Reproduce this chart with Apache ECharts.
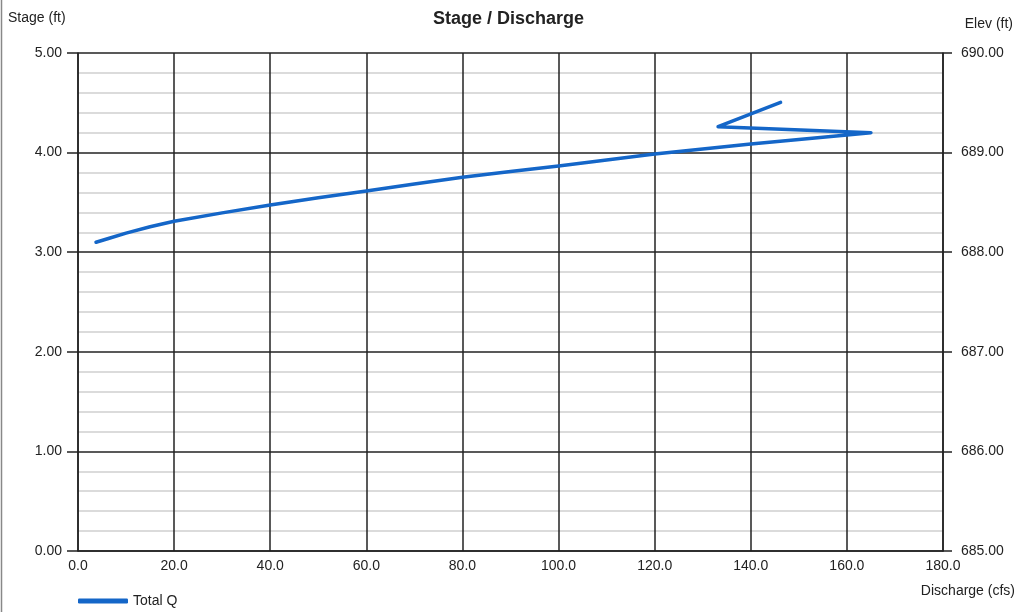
<!DOCTYPE html>
<html>
<head>
<meta charset="utf-8">
<script src="https://cdn.jsdelivr.net/npm/echarts@6/dist/echarts.min.js"></script>
<style>
  html, body { margin: 0; padding: 0; background: #fff; }
  #main { width: 1017px; height: 612px; }
</style>
</head>
<body>
<div id="main"></div>
<script>
// stage-discharge points
var discharge = [3.75, 6.5, 10.0, 15.0, 20.0, 30.0, 40.0, 50.0, 60.0, 70.0, 80.0, 90.0, 100.0, 120.0, 140.0, 160.0, 165.0, 133.2, 146.2];
var stage     = [3.10, 3.14, 3.192, 3.255, 3.31, 3.395, 3.474, 3.546, 3.614, 3.684, 3.752, 3.81, 3.865, 3.986, 4.086, 4.177, 4.20, 4.26, 4.505];
var seriesName = 'Total Q';

var pts = [];
for (var i = 0; i < discharge.length; i++) {
    pts.push([discharge[i], stage[i]]);
}

var font = 'Liberation Sans, Arial, sans-serif';
var myChart = echarts.init(document.getElementById('main'));
myChart.setOption({
    animation: false,
    textStyle: { fontFamily: font },
    title: {
        text: 'Stage / Discharge',
        left: 'center',
        top: 5,
        textStyle: { fontSize: 18, fontWeight: 'bold', color: '#222', fontFamily: font }
    },
    legend: {
        left: 73,
        top: 592,
        itemWidth: 50,
        itemHeight: 5,
        itemGap: 5,
        padding: [2, 5, 2, 5],
        icon: 'roundRect',
        textStyle: { fontSize: 14, color: '#222', fontFamily: font },
        data: [seriesName]
    },
    grid: { left: 78, right: 74, top: 53, bottom: 61 },
    xAxis: {
        type: 'value',
        min: 0, max: 180, interval: 20,
        axisLine: { show: true, lineStyle: { color: '#222', width: 1.5 } },
        axisTick: { show: false },
        axisLabel: {
            margin: 8, fontSize: 14, color: '#222',
            formatter: function (v) { return v.toFixed(1); }
        },
        splitLine: { show: true, lineStyle: { color: '#222', width: 1.5 } }
    },
    yAxis: [{
        type: 'value',
        min: 0, max: 5, interval: 1,
        axisLine: { show: true, lineStyle: { color: '#222', width: 1.5 } },
        axisTick: { show: true, length: 11, lineStyle: { color: '#222', width: 1.5 } },
        axisLabel: {
            margin: 16, fontSize: 14, color: '#222',
            formatter: function (v) { return v.toFixed(2); }
        },
        splitLine: { show: true, lineStyle: { color: '#222', width: 1.5 } },
        minorTick: { show: false, splitNumber: 5 },
        minorSplitLine: { show: true, lineStyle: { color: '#d0d0d0', width: 1.5 } }
    }, {
        type: 'value',
        position: 'right',
        min: 685, max: 690, interval: 1,
        axisLine: { show: true, lineStyle: { color: '#222', width: 1.5 } },
        axisTick: { show: true, length: 9, lineStyle: { color: '#222', width: 1.5 } },
        axisLabel: {
            margin: 18, fontSize: 14, color: '#222',
            formatter: function (v) { return v.toFixed(2); }
        },
        splitLine: { show: false }
    }],
    graphic: [
        { type: 'text', left: 8, top: 11, style: { text: 'Stage (ft)', fontSize: 14, fill: '#222', fontFamily: font } },
        { type: 'text', right: 4, top: 17, style: { text: 'Elev (ft)', fontSize: 14, fill: '#222', fontFamily: font } },
        { type: 'text', right: 2, top: 584, style: { text: 'Discharge (cfs)', fontSize: 14, fill: '#222', fontFamily: font } },
        { type: 'line', shape: { x1: 1.5, y1: 0, x2: 1.5, y2: 612 }, style: { stroke: '#888', lineWidth: 1.5 } }
    ],
    series: [{
        name: seriesName,
        type: 'line',
        yAxisIndex: 0,
        data: pts,
        showSymbol: false,
        symbol: 'none',
        color: '#1466c8',
        lineStyle: { width: 3.5, color: '#1466c8', cap: 'round', join: 'round' }
    }]
});
</script>
</body>
</html>
